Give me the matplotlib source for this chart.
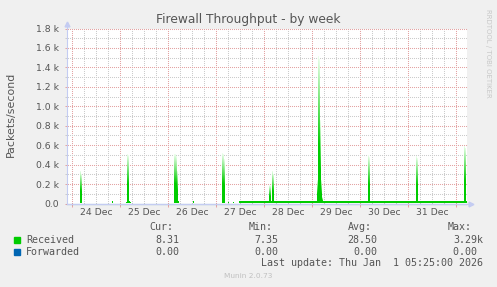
import numpy as np
import pandas as pd
import matplotlib
matplotlib.use("Agg")
import matplotlib.pyplot as plt
import matplotlib.dates as mdates

W, H = 497, 287

# ---------- data ----------
START = "2025-12-23 21:25"
END = "2026-01-01 05:25"
YMAX = 1800

# received packets/s baseline, level holds from the given time onward
base_from = ["2025-12-23 21:25", "2025-12-27 11:25"]
base_level = [5.0, 16.0]

# 30 minute samples that stick out above the baseline
spike_times = [
    "2025-12-24 03:55", "2025-12-24 04:25", "2025-12-24 19:55",
    "2025-12-25 02:55", "2025-12-25 03:25", "2025-12-25 03:55", "2025-12-25 04:25", "2025-12-25 04:55",
    "2025-12-26 02:55", "2025-12-26 03:25", "2025-12-26 03:55", "2025-12-26 04:25", "2025-12-26 04:55",
    "2025-12-26 12:25",
    "2025-12-27 02:55", "2025-12-27 03:25", "2025-12-27 03:55", "2025-12-27 05:55", "2025-12-27 08:25",
    "2025-12-28 02:25", "2025-12-28 02:55", "2025-12-28 03:55", "2025-12-28 04:25",
    "2025-12-29 02:25", "2025-12-29 02:55", "2025-12-29 03:25", "2025-12-29 03:55", "2025-12-29 04:25",
    "2025-12-29 04:55",
    "2025-12-30 03:55", "2025-12-30 04:25",
    "2025-12-31 03:55", "2025-12-31 04:25",
    "2026-01-01 03:55", "2026-01-01 04:25",
]
spike_vals = [
    330, 300, 20,
    15, 500, 490, 20, 15,
    500, 500, 480, 330, 20,
    20,
    510, 500, 450, 15, 15,
    180, 180, 330, 300,
    240, 1510, 1480, 850, 240,
    60,
    490, 470,
    480, 460,
    590, 570,
]

day_labels = ["24 Dec", "25 Dec", "26 Dec", "27 Dec", "28 Dec", "29 Dec", "30 Dec", "31 Dec"]
ytick_vals = [0, 200, 400, 600, 800, 1000, 1200, 1400, 1600, 1800]
ytick_labels = ["0.0", "0.2 k", "0.4 k", "0.6 k", "0.8 k", "1.0 k", "1.2 k", "1.4 k", "1.6 k", "1.8 k"]

legend_names = ["Received", "Forwarded"]
legend_colors = ["#00cc00", "#0066b3"]
legend_cur = ["8.31", "0.00"]
legend_min = ["7.35", "0.00"]
legend_avg = ["28.50", "0.00"]
legend_max = ["3.29k", "0.00 "]

# ---------- build series ----------
idx = pd.date_range(START, END, freq="30min", inclusive="left")
received = pd.Series(np.nan, index=idx)
for t, v in zip(base_from, base_level):
    received[received.index >= pd.Timestamp(t)] = v
received[pd.to_datetime(spike_times)] = spike_vals
forwarded = pd.Series(0.0, index=idx)

x0 = mdates.date2num(pd.Timestamp(START))
x1 = mdates.date2num(pd.Timestamp(END))

# ---------- figure ----------
fig = plt.figure(figsize=(W / 100, H / 100), dpi=100, facecolor="#f0f0f0")
ax = fig.add_axes([67 / W, 83.5 / H, 400 / W, 175 / H])
ax.set_facecolor("white")
ax.set_xlim(x0, x1)
ax.set_ylim(0, YMAX)
for s in ax.spines.values():
    s.set_visible(False)

MAJ = "#e4a4a4"
MIN = "#cccccc"
AXC = "#c4ccf2"
TXT = "#555555"

# dotted grid as 1px dots every 2px (drawn under the data, like rrdtool)
px_x = (x1 - x0) / 400
px_y = YMAX / 175
gx = np.arange(x0 + px_x * 0.5, x1, 2 * px_x)
gy = np.arange(px_y * 0.5, YMAX, 2 * px_y)
dot = dict(ls="none", marker="s", ms=0.75, mew=0, zorder=1)
for h in range(0, 24 * 10, 6):
    t = mdates.date2num(pd.Timestamp("2025-12-23") + pd.Timedelta(hours=h))
    if x0 < t < x1:
        ax.plot(np.full_like(gy, t), gy, color=MAJ if h % 24 == 0 else MIN, **dot)
for y in range(100, YMAX + 1, 100):
    ax.plot(gx, np.full_like(gx, y), color=MAJ if y % 200 == 0 else MIN, clip_on=False, **dot)

# ticks
midnights = [mdates.date2num(pd.Timestamp("2025-12-24") + pd.Timedelta(days=d)) for d in range(9)]
ax.set_xticks(midnights)
ax.set_xticklabels([])
ax.set_yticks(ytick_vals)
ax.set_yticklabels(ytick_labels)
ax.set_yticks(range(100, YMAX, 200), minor=True)
ax.tick_params(axis="x", which="major", length=2.2, width=0.72, color=MAJ, direction="out")
ax.tick_params(axis="y", which="major", length=1.6, width=0.72, color=MAJ, direction="out",
               labelsize=6.7, labelcolor=TXT, pad=4.0)
ax.tick_params(axis="y", which="minor", length=1.6, width=0.72, color=MIN, direction="out")

# received area with rrdtool style fade towards the top of each column
nrow = 175
ycent = (np.arange(nrow) + 0.5) * YMAX / nrow
v = received.values
frac = ycent[:, None] / v[None, :]
inside = frac <= 1.0
fade = np.clip((frac - 0.4) / 0.6, 0, 1)
fade[:, v < 60] = 0
green = np.array([0.0, 0.8, 0.0])
pale = np.array([0.93, 1.0, 0.93])
img = np.zeros((nrow, len(v), 4))
img[..., :3] = green * (1 - fade[..., None]) + pale * fade[..., None]
img[..., 3] = inside
ax.imshow(img, origin="lower", extent=(x0, x1, 0, YMAX), aspect="auto",
          interpolation="nearest", zorder=2)

# forwarded line (all zero)
ax.plot(mdates.date2num(forwarded.index), forwarded.values, color="#0066b3",
        lw=0.9, alpha=0.45, zorder=3, clip_on=False)

# axes with arrows
ax.plot([0, 0], [0, 1 + 6 / 175], transform=ax.transAxes, color=AXC, lw=0.8, clip_on=False, zorder=4)
ax.plot([0, 1 + 4 / 400], [0, 0], transform=ax.transAxes, color=AXC, lw=0.8, clip_on=False, zorder=4)
ax.plot([0], [1 + 5 / 175], marker="^", ms=3.5, color=AXC, transform=ax.transAxes, clip_on=False)
ax.plot([1 + 4 / 400], [0], marker=">", ms=3.5, color=AXC, transform=ax.transAxes, clip_on=False)

# day labels at noon
for i, lab in enumerate(day_labels):
    t = mdates.date2num(pd.Timestamp("2025-12-24 12:00") + pd.Timedelta(days=i))
    ax.text(t, -8.7 / 175, lab, transform=ax.get_xaxis_transform(), ha="center", va="center",
            fontsize=6.7, color=TXT)


def ftext(x, y, s, **kw):
    fig.text(x / W, 1 - y / H, s, **kw)


ftext(248.5, 19, "Firewall Throughput - by week", ha="center", va="center", fontsize=8.8, color=TXT)
ftext(11, 114.5, "Packets/second", ha="center", va="center", rotation=90, fontsize=7.9, color=TXT)
ftext(488, 53, "RRDTOOL / TOBI OETIKER", ha="center", va="center", rotation=270, fontsize=5.0,
      color="#c8c8c8")

mono = dict(family="DejaVu Sans Mono", fontsize=7.2, color=TXT, va="center")
ftext(149.3, 227.3, "Cur:", ha="left", **mono)
ftext(249, 227.3, "Min:", ha="left", **mono)
ftext(348.3, 227.3, "Avg:", ha="left", **mono)
ftext(447.3, 227.3, "Max:", ha="left", **mono)

for r, name in enumerate(legend_names):
    yy = 239.7 + 12 * r
    fig.patches.append(plt.Rectangle((14 / W, 1 - (yy + 3) / H), 6 / W, 6 / H,
                                     transform=fig.transFigure, color=legend_colors[r]))
    ftext(26, yy, name, ha="left", **mono)
    ftext(179, yy, legend_cur[r], ha="right", **mono)
    ftext(278.3, yy, legend_min[r], ha="right", **mono)
    ftext(377.7, yy, legend_avg[r], ha="right", **mono)
    ftext(483, yy, legend_max[r], ha="right", **mono)

ftext(261, 263.3, "Last update: Thu Jan  1 05:25:00 2026", ha="left", **mono)
ftext(248, 276, "Munin 2.0.73", ha="center", va="center", fontsize=5.3, color="#c0c0c0")

fig.savefig("out.png", dpi=100, facecolor=fig.get_facecolor())
